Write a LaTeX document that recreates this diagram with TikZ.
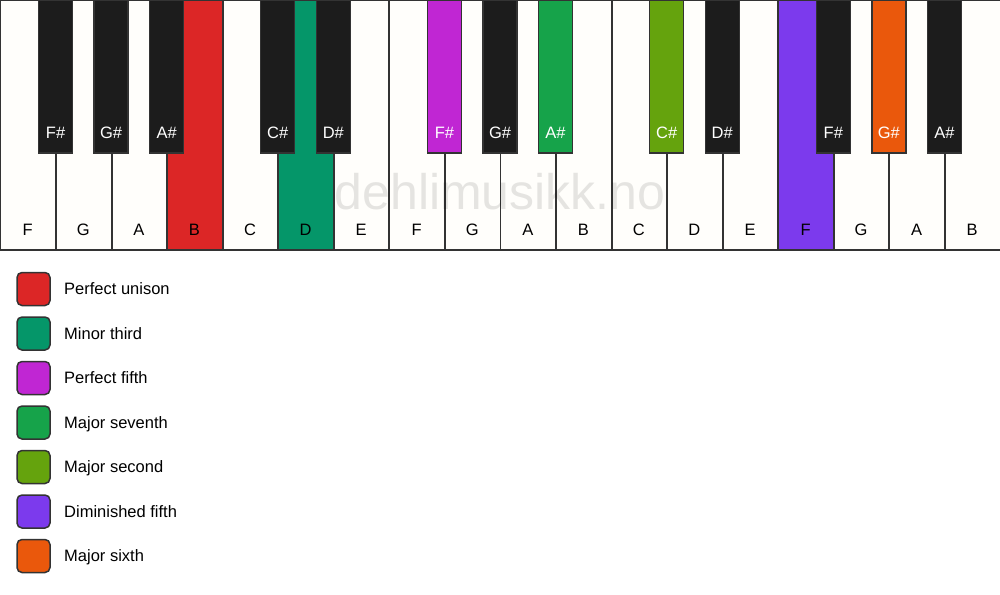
\documentclass[tikz,border=0pt]{standalone}
\usepackage{fontspec}
\setmainfont{Liberation Sans}
\definecolor{kred}{HTML}{DC2626}
\definecolor{kteal}{HTML}{059669}
\definecolor{kfuchsia}{HTML}{C026D3}
\definecolor{kgreen}{HTML}{16A34A}
\definecolor{klime}{HTML}{65A30D}
\definecolor{kviolet}{HTML}{7C3AED}
\definecolor{korange}{HTML}{EA580C}
\definecolor{kwhite}{HTML}{FFFEFB}
\definecolor{kblack}{HTML}{1C1C1C}
\definecolor{kline}{HTML}{333333}
\begin{document}
\begin{tikzpicture}[x=1pt,y=-1pt,
  whitekey/.style={draw=kline,line width=1.4pt,fill=kwhite},
  blackkey/.style={draw=kline,line width=1.4pt,fill=kblack},
  wlabel/.style={font=\fontsize{16.5pt}{19pt}\selectfont,text=black},
  blabel/.style={font=\fontsize{16.5pt}{19pt}\selectfont,text=white},
  legbox/.style={draw=kline,line width=1.5pt,rounded corners=5pt,minimum size=33pt,inner sep=0pt},
  legtext/.style={font=\fontsize{16.5pt}{19pt}\selectfont,anchor=west,inner sep=0pt,text height=12pt,text depth=3.5pt}]
\useasboundingbox[fill=white] (0,0) rectangle (1000,594);
% white keys
\def\ww{55.5556}
\foreach \n/\c [count=\i from 0] in {F/kwhite,G/kwhite,A/kwhite,B/kred,C/kwhite,D/kteal,E/kwhite,F/kwhite,G/kwhite,A/kwhite,B/kwhite,C/kwhite,D/kwhite,E/kwhite,F/kviolet,G/kwhite,A/kwhite,B/kwhite}{
  \path[whitekey,fill=\c] (\i*\ww+0.75,0.75) rectangle (\i*\ww+\ww+0.25,250);
  \node[wlabel] (w\i) at (\i*\ww+\ww/2,230) {\n};
}
% watermark
\node[font=\fontsize{50pt}{60pt}\selectfont,text=black,opacity=0.1] (wm) at (500,192) {dehlimusikk.no};
% black keys
\foreach \b/\n/\c in {1/F\#/kblack,2/G\#/kblack,3/A\#/kblack,5/C\#/kblack,6/D\#/kblack,8/F\#/kfuchsia,9/G\#/kblack,10/A\#/kgreen,12/C\#/klime,13/D\#/kblack,15/F\#/kblack,16/G\#/korange,17/A\#/kblack}{
  \path[blackkey,fill=\c] (\b*\ww-17,0.75) rectangle (\b*\ww+17,153);
  \node[blabel] (b\b) at (\b*\ww,133) {\n};
}
% legend
\foreach \c/\t [count=\k from 0] in {kred/Perfect unison,kteal/Minor third,kfuchsia/Perfect fifth,kgreen/Major seventh,klime/Major second,kviolet/Diminished fifth,korange/Major sixth}{
  \node[legbox,fill=\c] (l\k) at (33.5,289+\k*44.5) {};
  \node[legtext] (t\k) at (64,290.5+\k*44.5) {\t};
}
\end{tikzpicture}
\end{document}
